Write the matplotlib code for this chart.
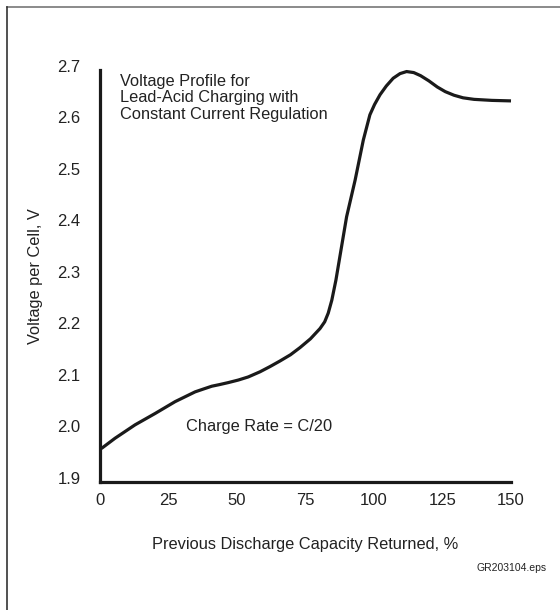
import matplotlib
matplotlib.use("Agg")
import matplotlib.pyplot as plt
import matplotlib.transforms as mtransforms
from matplotlib.lines import Line2D

plt.rcParams['font.family'] = ['Liberation Sans', 'DejaVu Sans']

# capacity returned (%) vs voltage per cell (V)
capacity = [0.5, 5.5, 12.8, 20.1, 27.4, 34.7, 38.0, 40.8, 43.5, 46.8, 50.5, 54.1,
            58.4, 62.0, 65.7, 69.5, 73.0, 76.8, 80.3, 82.0, 83.3, 84.6, 86.1,
            88.0, 90.0, 93.1, 96.1, 98.5, 100.2, 102.2, 104.5, 107.0, 109.5,
            111.9, 114.5, 117.0, 120.0, 123.1, 126.0, 129.2, 132.5, 136.5,
            143.0, 150.0]
voltage = [1.965, 1.985, 2.011, 2.033, 2.056, 2.075, 2.081, 2.086, 2.089, 2.093,
           2.098, 2.104, 2.114, 2.124, 2.135, 2.147, 2.161, 2.178, 2.198, 2.211,
           2.228, 2.253, 2.292, 2.352, 2.415, 2.486, 2.564, 2.613, 2.633, 2.652,
           2.669, 2.684, 2.693, 2.697, 2.695, 2.689, 2.679, 2.667, 2.658, 2.651,
           2.646, 2.643, 2.641, 2.640]
xticks = [0, 25, 50, 75, 100, 125, 150]
yticks = [1.9, 2.0, 2.1, 2.2, 2.3, 2.4, 2.5, 2.6, 2.7]

fig = plt.figure(figsize=(5.6, 6.1), dpi=100)
ax = fig.add_axes([100/560, 1-482/610, 411/560, 412/610])

ax.plot(capacity, voltage, color='#1a1a1a', lw=2.3, solid_joinstyle='round',
        solid_capstyle='butt', clip_on=False)

ax.set_xlim(0, 150)
ax.set_ylim(1.9, 2.7)
ax.set_xticks(xticks)
ax.set_xticklabels([str(t) for t in xticks])
ax.set_yticks(yticks)
ax.set_yticklabels([f"{t:.1f}" for t in yticks])
ax.tick_params(length=0, labelsize=12, colors='#222222')
ax.tick_params(axis='y', pad=14)
ax.tick_params(axis='x', pad=8)

offset = mtransforms.ScaledTranslation(0, 4/100, fig.dpi_scale_trans)
for lab in ax.get_yticklabels():
    lab.set_transform(lab.get_transform() + offset)

for s in ['top', 'right']:
    ax.spines[s].set_visible(False)
for s in ['left', 'bottom']:
    ax.spines[s].set_linewidth(2.3)
    ax.spines[s].set_color('#1a1a1a')

ax.set_xlabel('Previous Discharge Capacity Returned, %', fontsize=11.8,
              color='#222222', va='center')
ax.xaxis.set_label_coords(205/411, -62/412)
ax.set_ylabel('Voltage per Cell, V', fontsize=11.8, color='#222222', va='center')
ax.yaxis.set_label_coords(-64/411, 0.5)

ax.text(20/411, 0.990, 'Voltage Profile for\nLead-Acid Charging with\nConstant Current Regulation',
        transform=ax.transAxes, va='top', ha='left', fontsize=11.8,
        color='#222222', linespacing=1.1)
ax.text(31.4, 2.007, 'Charge Rate = C/20', va='center', ha='left',
        fontsize=11.8, color='#222222')

fig.text(547/560, 1-568/610, 'GR203104.eps', ha='right', va='center',
         fontsize=7.5, color='#222222')

# frame around the figure (only top and left edges show in the crop)
fig.add_artist(Line2D([7/560, 1], [1-7/610, 1-7/610], transform=fig.transFigure,
                      color='#777777', lw=1.2))
fig.add_artist(Line2D([7/560, 7/560], [0, 1-7/610], transform=fig.transFigure,
                      color='#333333', lw=1.2))

fig.savefig('out.png', dpi=100)
